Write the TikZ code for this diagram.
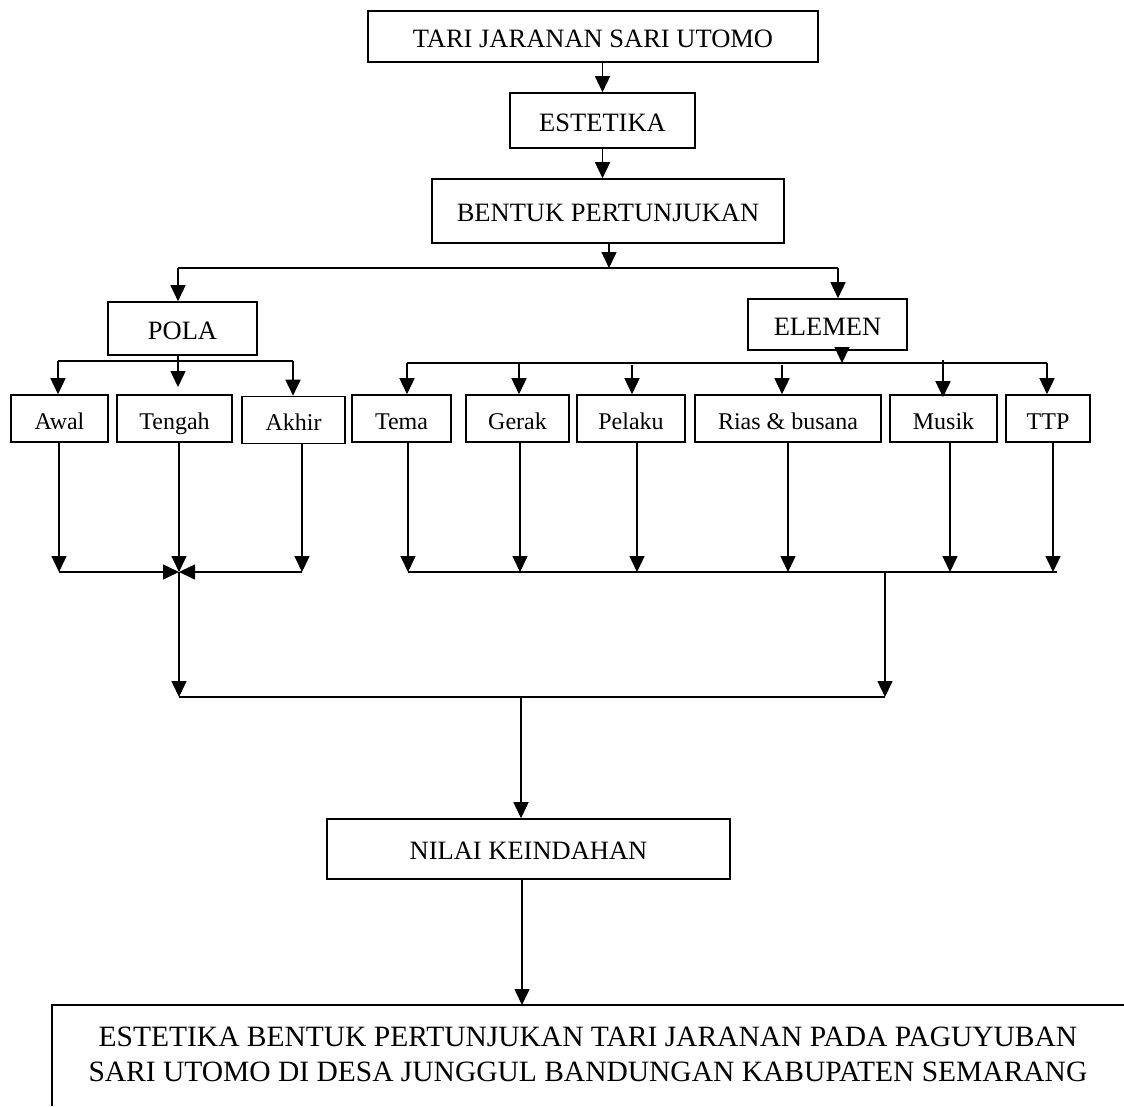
\documentclass[tikz,border=0pt]{standalone}
\usepackage{fontspec}
\setmainfont{Liberation Serif}
\usetikzlibrary{arrows.meta}
\begin{document}
\begin{tikzpicture}[x=1pt,y=-1pt,line width=1.5pt,
  box/.style={draw, line width=1.6pt, inner sep=0pt, text height=21pt, text depth=0pt, font=\fontsize{26.5}{31}\selectfont},
  sbox/.style={box, minimum height=47pt, font=\fontsize{24}{29}\selectfont},
  arr/.style={-{Triangle[length=16pt,width=15pt]}}]
\useasboundingbox (0,0) rectangle (1124,1106);

% boxes
\node[box, minimum width=450pt, minimum height=51pt] (top) at (593,36.5) {TARI JARANAN SARI UTOMO};
\node[box, minimum width=185pt, minimum height=55pt] (est) at (602.5,120.5) {ESTETIKA};
\node[box, minimum width=352pt, minimum height=64pt] (bent) at (608,211) {BENTUK PERTUNJUKAN};
\node[box, minimum width=149pt, minimum height=53pt] (pola) at (182.5,328.5) {POLA};
\node[box, minimum width=159pt, minimum height=51pt] (elem) at (827.5,324.5) {ELEMEN};

\node[sbox, minimum width=97pt] (awal) at (59.5,418.5) {Awal};
\node[sbox, minimum width=115pt] (teng) at (174.5,418.5) {Tengah};
\node[sbox, minimum width=103pt] (akhir) at (293.5,420) {Akhir};
\node[sbox, minimum width=99pt] (tema) at (401.5,418.5) {Tema};
\node[sbox, minimum width=103pt] (gerak) at (517.5,418.5) {Gerak};
\node[sbox, minimum width=108pt] (pelaku) at (631,418.5) {Pelaku};
\node[sbox, minimum width=186pt] (rias) at (788,418.5) {Rias \& busana};
\node[sbox, minimum width=107pt] (musik) at (943.5,418.5) {Musik};
\node[sbox, minimum width=84pt] (ttp) at (1048,418.5) {TTP};

\node[box, minimum width=403pt, minimum height=60pt] (nil) at (528.5,849) {NILAI KEINDAHAN};

\node[align=center, inner sep=0pt, font=\fontsize{29.5}{35}\selectfont] (conc) at (588,1054)
  {ESTETIKA BENTUK PERTUNJUKAN TARI JARANAN PADA PAGUYUBAN\\SARI UTOMO DI DESA JUNGGUL BANDUNGAN KABUPATEN SEMARANG};
\coordinate (cTL) at (52,1005);
\coordinate (cTR) at (1124,1005);
\coordinate (cBL) at (52,1106);
\draw[line width=1.6pt] (cTR) -- (cTL) -- (cBL);

% top chain
\draw[arr] (top.south -| est.north) -- (est.north);
\draw[arr] (est.south) -- (est.south |- bent.north);
\coordinate (bj) at (609,268);
\coordinate (bl) at (178,268);
\coordinate (br) at (838,268);
\draw[arr] (bj |- bent.south) -- (bj);
\draw (bl) -- (br);
\draw[arr] (bl) -- (bl |- pola.north);
\draw[arr] (br) -- (br |- elem.north);

% POLA branch
\coordinate (pj) at (178,361);
\coordinate (ptip) at (178,387);
\coordinate (pl) at (58,361);
\coordinate (pr) at (293,361);
\draw[arr] (pj |- pola.south) -- (ptip);
\draw (pl) -- (pr);
\draw[arr] (pl) -- (pl |- awal.north);
\draw[arr] (pr) -- (pr |- akhir.north);

% ELEMEN branch
\coordinate (ej) at (842,363);
\coordinate (el) at (407,363);
\coordinate (er) at (1047,363);
\draw[arr] (ej |- elem.south) -- (ej);
\draw (el) -- (er);
\coordinate (e1) at (407,363);
\coordinate (e2) at (519,363);
\coordinate (e3) at (632,365);
\coordinate (e4) at (782,365);
\coordinate (e5) at (943,360);
\coordinate (e6) at (1047,363);
\draw[arr] (e1) -- (e1 |- tema.north);
\draw[arr] (e2) -- (e2 |- gerak.north);
\draw[arr] (e3) -- (e3 |- pelaku.north);
\draw[arr] (e4) -- (e4 |- rias.north);
\draw[arr] (e5) -- ([yshift=-3pt]e5 |- musik.north);
\draw[arr] (e6) -- (e6 |- ttp.north);

% down lines left
\coordinate (la) at (59,572);
\coordinate (lj) at (179,572);
\coordinate (lc) at (302,572);
\draw[arr] (la |- awal.south) -- (la);
\draw[arr] (lj |- teng.south) -- (lj);
\draw[arr] (lc |- akhir.south) -- (lc);
\draw[arr] (la) -- (lj);
\draw[arr] (lc) -- (lj);

% down lines right
\coordinate (r1) at (408,572);
\coordinate (r2) at (520,572);
\coordinate (r3) at (637,572);
\coordinate (r4) at (788,572);
\coordinate (r5) at (950,572);
\coordinate (r6) at (1053,572);
\coordinate (rend) at (1057,572);
\coordinate (rj) at (885,572);
\draw[arr] (r1 |- tema.south) -- (r1);
\draw[arr] (r2 |- gerak.south) -- (r2);
\draw[arr] (r3 |- pelaku.south) -- (r3);
\draw[arr] (r4 |- rias.south) -- (r4);
\draw[arr] (r5 |- musik.south) -- (r5);
\draw[arr] (r6 |- ttp.south) -- (r6);
\draw (r1) -- (rend);

% merge
\coordinate (bL) at (179,697);
\coordinate (bR) at (885,697);
\coordinate (bM) at (521,697);
\draw[arr] (lj) -- (bL);
\draw[arr] (rj) -- (bR);
\draw (bL) -- (bR);
\draw[arr] (bM) -- (bM |- nil.north);
\coordinate (nm) at (522,1005);
\draw[arr] (nm |- nil.south) -- (nm);
\end{tikzpicture}
\end{document}
